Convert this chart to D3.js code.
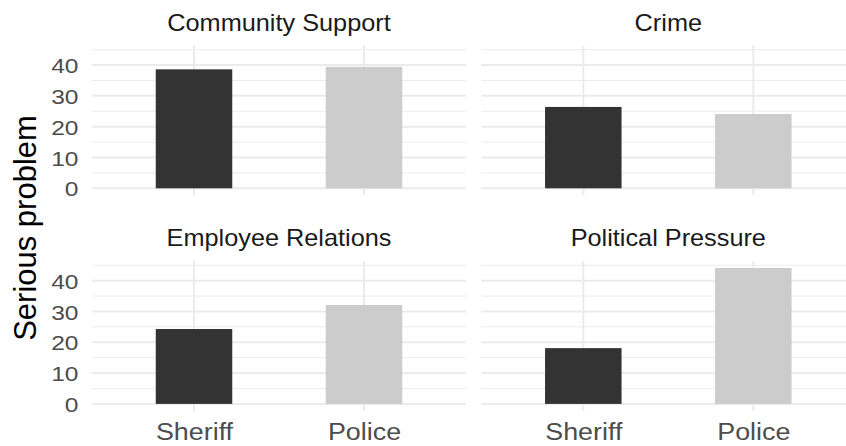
<!DOCTYPE html>
<html>
<head>
<meta charset="utf-8">
<script src="https://cdn.jsdelivr.net/npm/d3@7"></script>
<style>
  html, body { margin: 0; padding: 0; background: #ffffff; }
  svg { display: block; font-family: "Liberation Sans", Arial, sans-serif; }
</style>
</head>
<body>
<svg id="chart" width="846" height="446"></svg>
<script>
// ---- data ----
const categories = ["Community Support", "Crime", "Employee Relations", "Political Pressure"];
const agencies = ["Sheriff", "Police"];
const sheriffValues = [38.6, 26.4, 24.3, 18.1];
const policeValues = [39.4, 24.1, 32.1, 44.1];
const yTicks = [0, 10, 20, 30, 40];
const yMinorTicks = [5, 15, 25, 35, 45];
const yTitle = "Serious problem";
const barColors = ["#333333", "#cccccc"];

// ---- layout ----
const svg = d3.select("#chart");
const panelW = 374, gapX = 15.3;
const panelX0 = 92;
const panelTops = [45.6, 261.2];
const panelH = 149.5;

const yMax = d3.max([...sheriffValues, ...policeValues]);
const expand = yMax * 0.05;

const panels = categories.map((c, i) => ({
  name: c,
  col: i % 2,
  row: Math.floor(i / 2),
  values: [sheriffValues[i], policeValues[i]]
}));

panels.forEach(p => {
  const x0 = panelX0 + p.col * (panelW + gapX);
  const y0 = panelTops[p.row];
  const g = svg.append("g").attr("transform", `translate(${x0},${y0})`);

  // ggplot-like discrete scale: 0.6 units of expansion on each side
  const step = panelW / (agencies.length - 1 + 1.2);
  const xc = d3.scalePoint().domain(agencies).range([0.6 * step, panelW - 0.6 * step]);
  const barW = 0.45 * step;

  const y = d3.scaleLinear().domain([-expand, yMax + expand]).range([panelH, 0]);

  // minor grid
  g.selectAll("line.minor").data(yMinorTicks.filter(v => v <= yMax + expand)).enter()
    .append("line")
    .attr("x1", 0).attr("x2", panelW)
    .attr("y1", d => y(d)).attr("y2", d => y(d))
    .attr("stroke", "#ebebeb").attr("stroke-width", 1);
  // major grid
  g.selectAll("line.majorY").data(yTicks).enter()
    .append("line")
    .attr("x1", 0).attr("x2", panelW)
    .attr("y1", d => y(d)).attr("y2", d => y(d))
    .attr("stroke", "#ebebeb").attr("stroke-width", 2);
  g.selectAll("line.majorX").data(agencies).enter()
    .append("line")
    .attr("x1", d => xc(d)).attr("x2", d => xc(d))
    .attr("y1", 0).attr("y2", panelH)
    .attr("stroke", "#ebebeb").attr("stroke-width", 2);

  // bars
  g.selectAll("rect.bar").data(agencies.map((a, j) => ({ a, v: p.values[j], j }))).enter()
    .append("rect")
    .attr("x", d => xc(d.a) - barW / 2)
    .attr("width", barW)
    .attr("y", d => y(d.v))
    .attr("height", d => y(0) - y(d.v))
    .attr("fill", d => barColors[d.j]);

  // strip title
  svg.append("text")
    .attr("transform", `translate(${x0 + panelW / 2},${y0 - 15}) scale(1.1,1)`)
    .attr("text-anchor", "middle")
    .attr("font-size", 23)
    .attr("fill", "#1a1a1a")
    .text(p.name);

  // y axis on left column
  if (p.col === 0) {
    const ax = g.append("g").call(d3.axisLeft(y).tickValues(yTicks).tickSize(0).tickPadding(0));
    ax.select(".domain").remove();
    ax.selectAll("text")
      .attr("x", null)
      .attr("dy", "0.36em")
      .attr("transform", "translate(-13.5,0) scale(1.17,1)")
      .attr("font-size", 21)
      .attr("font-family", "Liberation Sans, Arial, sans-serif")
      .attr("fill", "#4d4d4d");
  }
  // x axis on bottom row
  if (p.row === 1) {
    const ax = g.append("g").attr("transform", `translate(0,${panelH})`)
      .call(d3.axisBottom(xc).tickSize(0).tickPadding(0));
    ax.select(".domain").remove();
    ax.selectAll("text")
      .attr("y", null)
      .attr("dy", null)
      .attr("transform", "translate(0,29.5) scale(1.12,1)")
      .attr("font-size", 24)
      .attr("font-family", "Liberation Sans, Arial, sans-serif")
      .attr("fill", "#4d4d4d");
  }
});

// y title
svg.append("text")
  .attr("transform", "translate(36,228) rotate(-90)")
  .attr("text-anchor", "middle")
  .attr("font-size", 31)
  .attr("fill", "#000000")
  .text(yTitle);
</script>
</body>
</html>
